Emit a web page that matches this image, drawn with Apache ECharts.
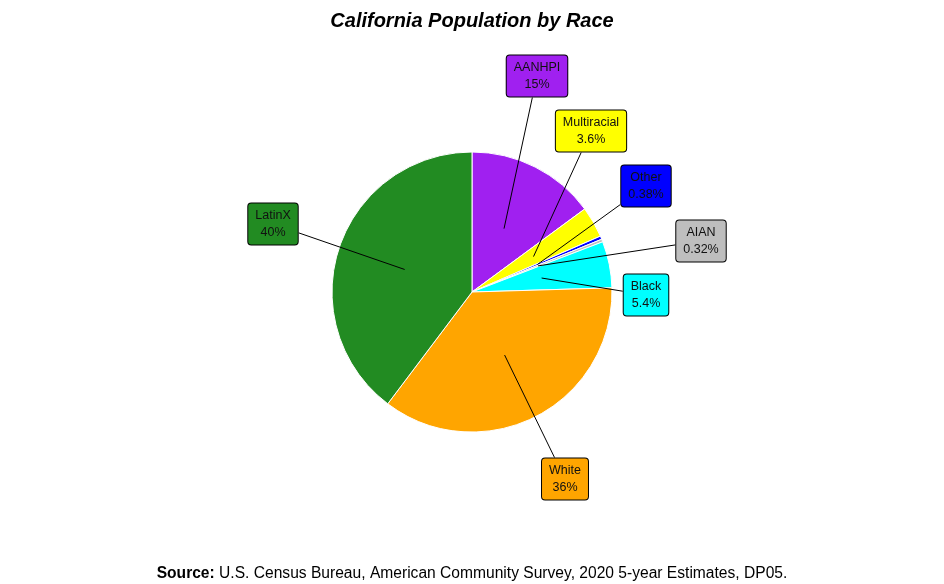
<!DOCTYPE html>
<html>
<head>
<meta charset="utf-8">
<script src="https://cdn.jsdelivr.net/npm/echarts@6/dist/echarts.min.js"></script>
<style>
  html, body { margin: 0; padding: 0; background: #fff; }
  #chart { width: 944px; height: 584px; }
</style>
</head>
<body>
<div id="chart"></div>
<script>
// 数据：按顺时针从正上方开始
var groups = ['AANHPI', 'Multiracial', 'Other', 'AIAN', 'Black', 'White', 'LatinX'];
var shares = [15, 3.6, 0.38, 0.32, 5.4, 36, 40];
var colors = ['#A020F0', '#FFFF00', '#0000FF', '#BEBEBE', '#00FFFF', '#FFA500', '#228B22'];

// 标签框中心位置（布局用）
var labelPos = [[537, 76], [591, 131], [646, 186], [701, 241], [646, 295], [565, 479], [273, 224]];

var chart = echarts.init(document.getElementById('chart'));

var pieData = groups.map(function (g, i) {
    return { name: g, value: shares[i], itemStyle: { color: colors[i] } };
});

// 引线从扇区内部出发，终点落在标签框边上
var placeLabel = function (p) {
    var pos = labelPos[p.dataIndex];
    var w = p.labelRect.width, h = p.labelRect.height;
    var res = { x: pos[0], y: pos[1], align: 'center', verticalAlign: 'middle' };
    var pts = p.labelLinePoints;
    if (pts && pts[0]) {
        var a = pts[0];
        var dx = pos[0] - a[0], dy = pos[1] - a[1];
        var tx = dx !== 0 ? (w / 2) / Math.abs(dx) : Infinity;
        var ty = dy !== 0 ? (h / 2) / Math.abs(dy) : Infinity;
        var t = Math.min(tx, ty);
        var e = [pos[0] - dx * t, pos[1] - dy * t];
        res.labelLinePoints = [[a[0], a[1]], e, e];
    }
    return res;
};

var option = {
    backgroundColor: '#fff',
    animation: false,
    title: [
        {
            text: 'California Population by Race',
            left: 'center',
            top: 6,
            textStyle: {
                fontFamily: 'Liberation Sans',
                fontSize: 20,
                fontWeight: 'bold',
                fontStyle: 'italic',
                color: '#000'
            }
        },
        {
            text: '{b|Source:} U.S. Census Bureau, American Community Survey, 2020 5-year Estimates, DP05.',
            left: 'center',
            top: 561,
            textStyle: {
                fontFamily: 'Liberation Sans',
                fontSize: 15.6,
                fontWeight: 'normal',
                color: '#000',
                rich: {
                    b: { fontFamily: 'Liberation Sans', fontSize: 15.6, fontWeight: 'bold', color: '#000' }
                }
            }
        }
    ],
    series: [
        {
            name: 'slices',
            type: 'pie',
            z: 2,
            center: [472, 292],
            radius: 140,
            startAngle: 90,
            clockwise: true,
            silent: true,
            label: { show: false },
            labelLine: { show: false },
            itemStyle: { borderColor: '#fff', borderWidth: 1 },
            data: pieData
        },
        {
            name: 'labels',
            type: 'pie',
            z: 5,
            center: [472, 292],
            radius: 71,
            startAngle: 90,
            clockwise: true,
            silent: true,
            avoidLabelOverlap: false,
            itemStyle: { color: 'rgba(0,0,0,0)', borderWidth: 0 },
            label: {
                show: true,
                position: 'outside',
                formatter: '{b}\n{c}%',
                fontFamily: 'Liberation Sans',
                fontSize: 12.5,
                lineHeight: 17,
                color: '#111',
                align: 'center',
                padding: [4, 7, 3, 7],
                borderColor: '#000',
                borderWidth: 1,
                borderRadius: 3
            },
            labelLine: {
                show: true,
                length: 10,
                length2: 0,
                lineStyle: { color: '#000', width: 1 }
            },
            labelLayout: placeLabel,
            data: groups.map(function (g, i) {
                return {
                    name: g,
                    value: shares[i],
                    label: { backgroundColor: colors[i] }
                };
            })
        }
    ]
};

chart.setOption(option);
</script>
</body>
</html>
